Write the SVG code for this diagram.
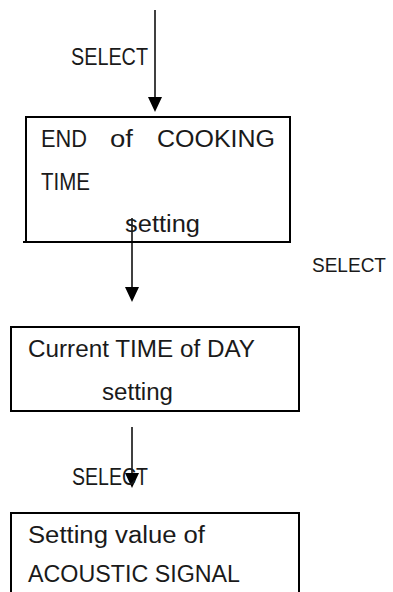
<svg xmlns="http://www.w3.org/2000/svg" width="393" height="592" viewBox="0 0 393 592">
<style>
text{font-family:"Liberation Sans",Arial,sans-serif;font-size:23px;fill:#1a1a1a}
.box{fill:none;stroke:#000;stroke-width:2}
.conn{stroke:#000;stroke-width:1.5;fill:none}
.head{fill:#000}
</style>
<rect width="393" height="592" fill="#fff"/>
<g id="connectors">
<line class="conn" x1="155" y1="10" x2="155" y2="98"/>
<path class="head" d="M148,97 L162,97 L155,112 Z"/>
<line class="conn" x1="132" y1="218" x2="132" y2="288"/>
<path class="head" d="M125,287 L139,287 L132,302 Z"/>
<line class="conn" x1="132" y1="427" x2="132" y2="474"/>
<path class="head" d="M125,473 L139,473 L132,488 Z"/>
<text x="71" y="65" textLength="77" lengthAdjust="spacingAndGlyphs">SELECT</text>
<text x="312" y="272" style="font-size:20px" textLength="74" lengthAdjust="spacingAndGlyphs">SELECT</text>
<text x="72" y="485" textLength="76" lengthAdjust="spacingAndGlyphs">SELECT</text>
</g>
<g id="node-end-cooking">
<rect class="box" x="26" y="117" width="264" height="125"/>
<line class="box" x1="23" y1="242" x2="27" y2="242"/>
<text x="41" y="147" textLength="46" lengthAdjust="spacingAndGlyphs">END</text>
<text x="110" y="147" textLength="23" lengthAdjust="spacingAndGlyphs">of</text>
<text x="157" y="147" textLength="118" lengthAdjust="spacingAndGlyphs">COOKING</text>
<text x="41" y="190" textLength="49" lengthAdjust="spacingAndGlyphs">TIME</text>
<text x="125" y="232" textLength="75" lengthAdjust="spacingAndGlyphs">setting</text>
</g>
<g id="node-current-time">
<rect class="box" x="11" y="327" width="288" height="84"/>
<text x="28" y="357" textLength="227" lengthAdjust="spacingAndGlyphs">Current TIME of DAY</text>
<text x="102" y="400" textLength="71" lengthAdjust="spacingAndGlyphs">setting</text>
</g>
<g id="node-acoustic">
<path class="box" d="M11,600 L11,513 L299,513 L299,600"/>
<text x="28" y="543" textLength="177" lengthAdjust="spacingAndGlyphs">Setting value of</text>
<text x="28" y="582" textLength="212" lengthAdjust="spacingAndGlyphs">ACOUSTIC SIGNAL</text>
</g>
</svg>
